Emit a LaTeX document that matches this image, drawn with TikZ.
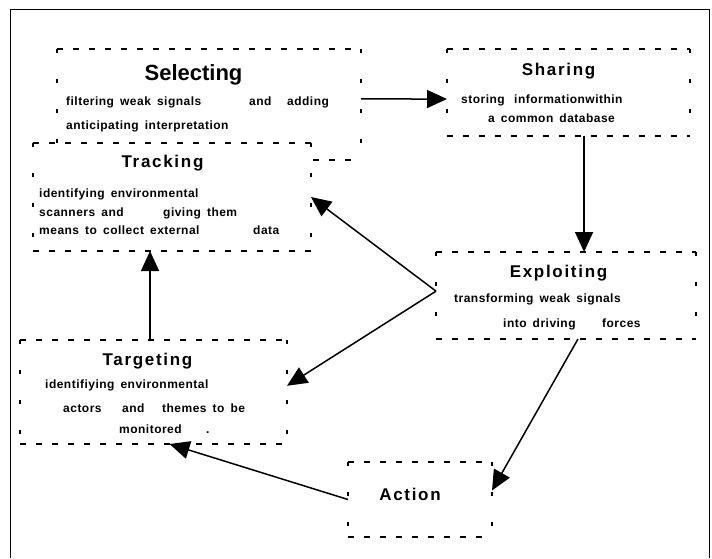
\documentclass[tikz,border=0pt]{standalone}
\usepackage{fontspec}
\setmainfont{Liberation Sans}
\newfontfamily\bodyfont[LetterSpace=4,WordSpace=1.6]{Liberation Sans}
\newfontfamily\headfont[LetterSpace=10]{Liberation Sans}
\usepackage{tikz}
\usetikzlibrary{arrows.meta,calc}
\tikzset{
  >=latex,
  frame/.style={line width=0.9pt},
  box/.style={inner sep=0,outer sep=0,fill=none},
  hdash/.style={line width=1.4pt,dash pattern=on 6pt off 10pt},
  vdash/.style={line width=1.4pt,dash pattern=on 4pt off 26pt},
  bigtitle/.style={anchor=base,inner sep=0,font=\fontsize{22}{24}\selectfont\bfseries},
  title/.style={anchor=base,inner sep=0,font=\headfont\fontsize{17}{19}\selectfont\bfseries},
  body/.style={anchor=base west,inner sep=0,font=\bodyfont\fontsize{12}{14}\selectfont\bfseries},
  arr/.style={-{Triangle[length=20pt,width=18pt]},line width=1.5pt}
}
\newcommand{\stepbox}[1]{%
  \draw[hdash] (#1.north west) -- (#1.north east) (#1.south west) -- (#1.south east);
  \draw[vdash] (#1.north west) -- (#1.south west) (#1.north east) -- (#1.south east);}

\begin{document}
\begin{tikzpicture}[x=1pt,y=-1pt]
  \useasboundingbox (0,0) rectangle (712,558);
  % outer frame
  \draw[frame] (10,558) -- (10,9) -- (709,9) -- (709,558);

  % boxes
  \node[box,minimum width=304pt,minimum height=111pt] (sel) at (209,104.5) {};
  \stepbox{sel}
  \node[box,fill=white,minimum width=278pt,minimum height=108pt] (trk) at (172,197) {};
  \stepbox{trk}
  \node[box,minimum width=243pt,minimum height=87pt] (shr) at (568.5,92.5) {};
  \stepbox{shr}
  \node[box,minimum width=260pt,minimum height=87pt] (expl) at (566,295.5) {};
  \stepbox{expl}
  \node[box,minimum width=267pt,minimum height=104pt] (tgt) at (153.5,392) {};
  \stepbox{tgt}
  \node[box,minimum width=144pt,minimum height=75pt] (act) at (420,499.5) {};
  \stepbox{act}

  % titles
  \node[bigtitle] (sel-t) at (193.5,80) {Selecting};
  \foreach \x/\y/\t [count=\i] in {162.5/167/Tracking,558.5/75/Sharing,
      558.5/277/Exploiting,147.5/365/Targeting,410/500/Action}{%
    \node[title] (title\i) at (\x,\y) {\t};
  }

  % texts
  \foreach \x/\y/\t [count=\i] in {66/105/{filtering weak signals},249/105/and,
      287/105/adding,66/129/{anticipating interpretation},
      39/197/{identifying environmental},39/216/{scanners and},163/216/{giving them},
      39/234/{means to collect external},253/234/data,
      461/103/storing,514/103/informationwithin,488/122/{a common database},
      454/302/{transforming weak signals},503/327/{into driving},602/327/forces,
      45/388/{identifiying environmental},63/412/actors,122/412/and,
      162/412/{themes to be},119/433/monitored,206/433/.}{%
    \node[body] (txt\i) at (\x,\y) {\t};
  }

  % connectors
  \draw[arr] ($(sel.north east)!0.45!(sel.south east)$) -- ($(shr.north west)!0.575!(shr.south west)$);
  \draw[arr] ($(shr.south west)!0.564!(shr.south east)$) coordinate (shr-out) -- (shr-out |- expl.north);
  \draw[arr] ($(expl.north west)!0.45!(expl.south west)$) coordinate (expl-out) -- (trk.east);
  \draw[arr] (expl-out) -- ($(tgt.north east)!0.44!(tgt.south east)$);
  \draw[arr] ($(expl.south west)!0.546!(expl.south east)$) -- ($(act.north east)!0.38!(act.south east)$);
  \draw[arr] (act.west) -- ($(tgt.south west)!0.56!(tgt.south east)$);
  \draw[arr] ($(tgt.north west)!0.487!(tgt.north east)$) coordinate (tgt-out) -- (tgt-out |- trk.south);
\end{tikzpicture}
\end{document}
